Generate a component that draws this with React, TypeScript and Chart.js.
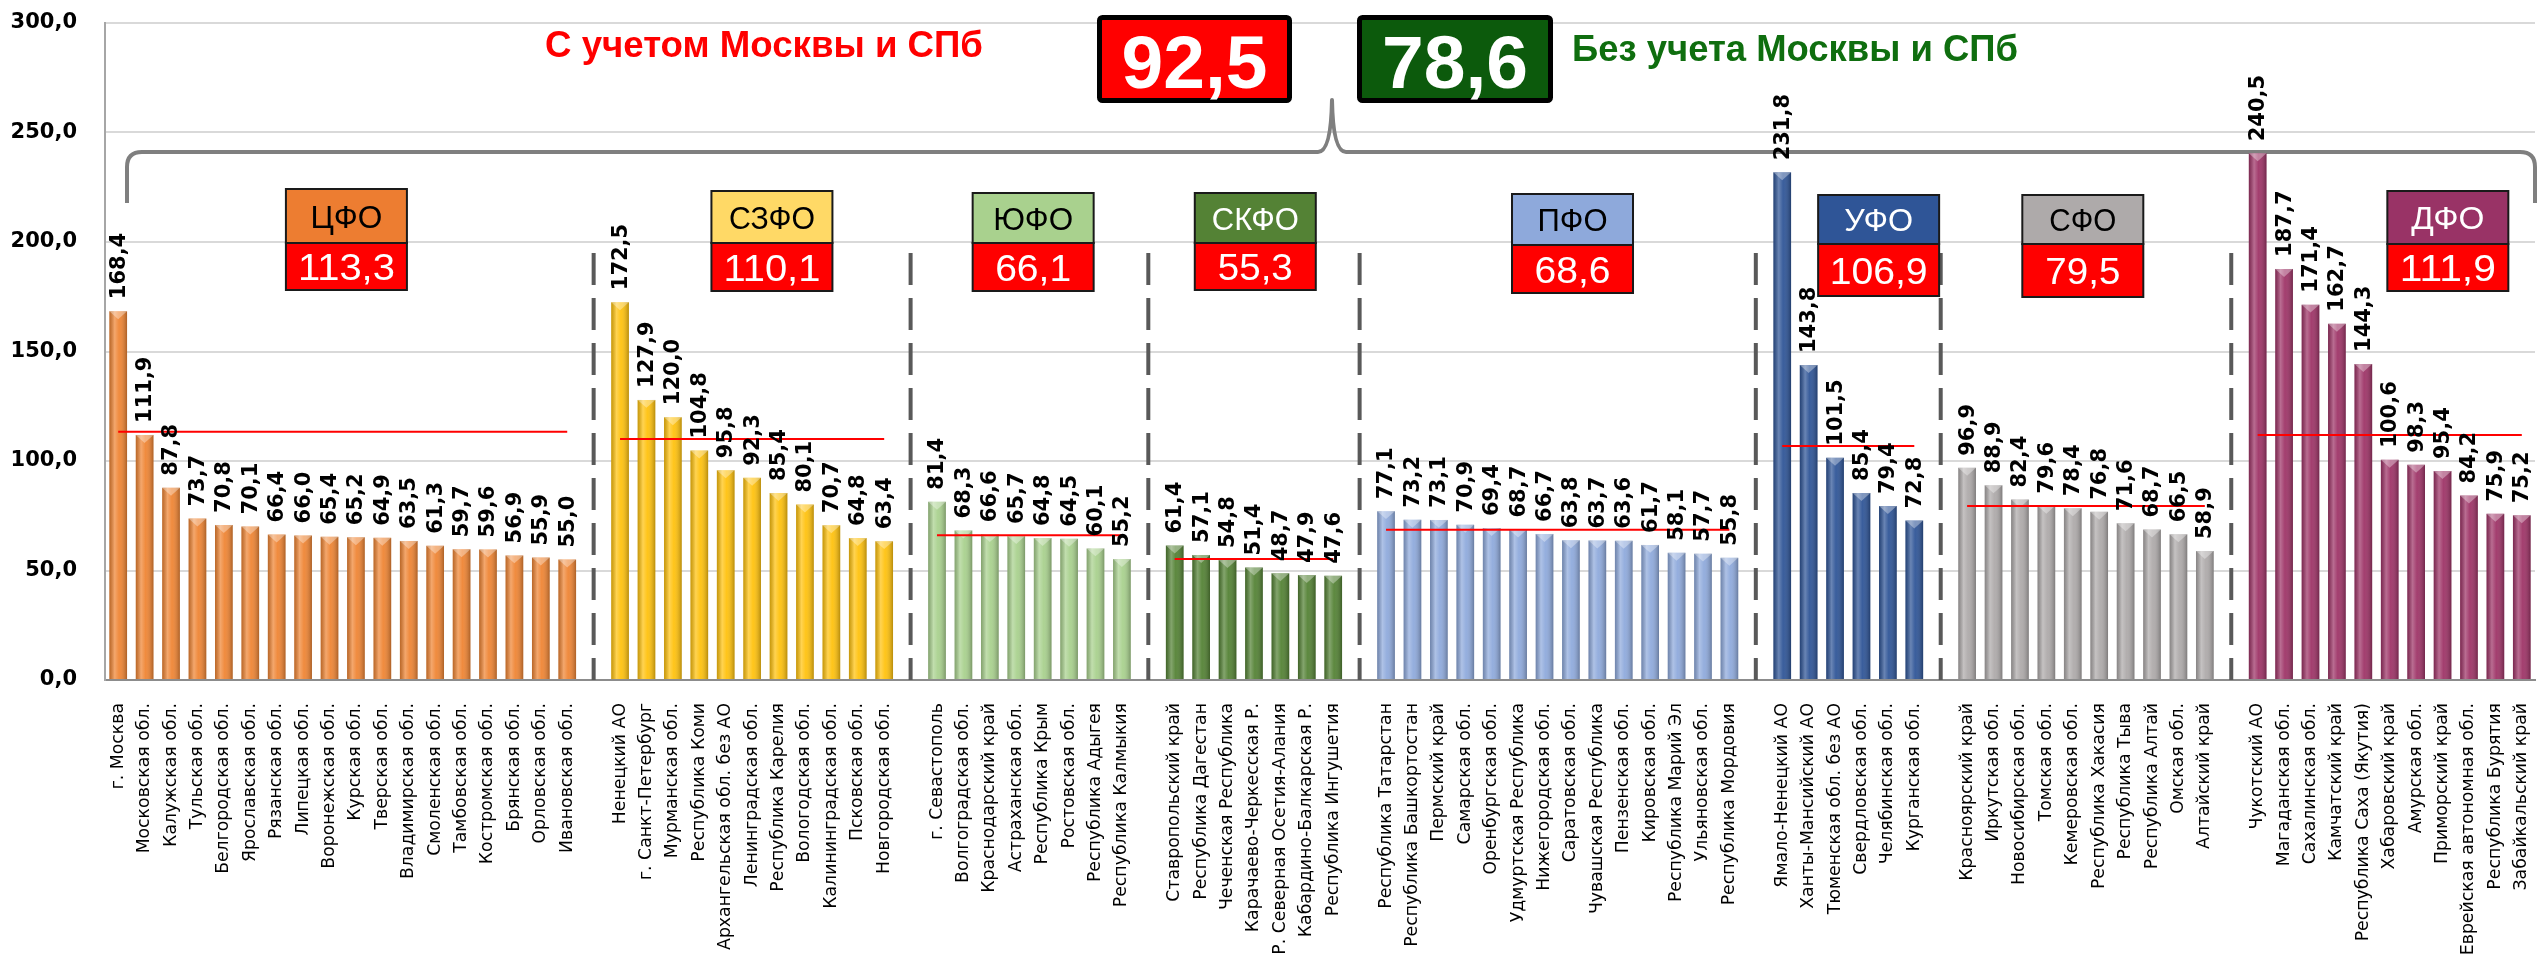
import React, { useEffect, useRef } from 'react';
import { Chart, registerables } from 'chart.js';

Chart.register(...registerables);

// ---------------- DATA ----------------
const groupNames = ['ЦФО', 'СЗФО', 'ЮФО', 'СКФО', 'ПФО', 'УФО', 'СФО', 'ДФО'];
const groupAverages = [113.3, 110.1, 66.1, 55.3, 68.6, 106.9, 79.5, 111.9];
const totalWithCapitals = 92.5;
const totalWithoutCapitals = 78.6;
const headerWith = 'С учетом Москвы и СПб';
const headerWithout = 'Без учета Москвы и СПб';

const cfoRegions = ['г. Москва', 'Московская обл.', 'Калужская обл.', 'Тульская обл.', 'Белгородская обл.', 'Ярославская обл.', 'Рязанская обл.', 'Липецкая обл.', 'Воронежская обл.', 'Курская обл.', 'Тверская обл.', 'Владимирская обл.', 'Смоленская обл.', 'Тамбовская обл.', 'Костромская обл.', 'Брянская обл.', 'Орловская обл.', 'Ивановская обл.'];
const cfoValues = [168.4, 111.9, 87.8, 73.7, 70.8, 70.1, 66.4, 66.0, 65.4, 65.2, 64.9, 63.5, 61.3, 59.7, 59.6, 56.9, 55.9, 55.0];

const szfoRegions = ['Ненецкий АО', 'г. Санкт-Петербург', 'Мурманская обл.', 'Республика Коми', 'Архангельская обл. без АО', 'Ленинградская обл.', 'Республика Карелия', 'Вологодская обл.', 'Калининградская обл.', 'Псковская обл.', 'Новгородская обл.'];
const szfoValues = [172.5, 127.9, 120.0, 104.8, 95.8, 92.3, 85.4, 80.1, 70.7, 64.8, 63.4];

const yufoRegions = ['г. Севастополь', 'Волгоградская обл.', 'Краснодарский край', 'Астраханская обл.', 'Республика Крым', 'Ростовская обл.', 'Республика Адыгея', 'Республика Калмыкия'];
const yufoValues = [81.4, 68.3, 66.6, 65.7, 64.8, 64.5, 60.1, 55.2];

const skfoRegions = ['Ставропольский край', 'Республика Дагестан', 'Чеченская Республика', 'Карачаево-Черкесская Р.', 'Р. Северная Осетия-Алания', 'Кабардино-Балкарская Р.', 'Республика Ингушетия'];
const skfoValues = [61.4, 57.1, 54.8, 51.4, 48.7, 47.9, 47.6];

const pfoRegions = ['Республика Татарстан', 'Республика Башкортостан', 'Пермский край', 'Самарская обл.', 'Оренбургская обл.', 'Удмуртская Республика', 'Нижегородская обл.', 'Саратовская обл.', 'Чувашская Республика', 'Пензенская обл.', 'Кировская обл.', 'Республика Марий Эл', 'Ульяновская обл.', 'Республика Мордовия'];
const pfoValues = [77.1, 73.2, 73.1, 70.9, 69.4, 68.7, 66.7, 63.8, 63.7, 63.6, 61.7, 58.1, 57.7, 55.8];

const ufoRegions = ['Ямало-Ненецкий АО', 'Ханты-Мансийский АО', 'Тюменская обл. без АО', 'Свердловская обл.', 'Челябинская обл.', 'Курганская обл.'];
const ufoValues = [231.8, 143.8, 101.5, 85.4, 79.4, 72.8];

const sfoRegions = ['Красноярский край', 'Иркутская обл.', 'Новосибирская обл.', 'Томская обл.', 'Кемеровская обл.', 'Республика Хакасия', 'Республика Тыва', 'Республика Алтай', 'Омская обл.', 'Алтайский край'];
const sfoValues = [96.9, 88.9, 82.4, 79.6, 78.4, 76.8, 71.6, 68.7, 66.5, 58.9];

const dfoRegions = ['Чукотский АО', 'Магаданская обл.', 'Сахалинская обл.', 'Камчатский край', 'Республика Саха (Якутия)', 'Хабаровский край', 'Амурская обл.', 'Приморский край', 'Еврейская автономная обл.', 'Республика Бурятия', 'Забайкальский край'];
const dfoValues = [240.5, 187.7, 171.4, 162.7, 144.3, 100.6, 98.3, 95.4, 84.2, 75.9, 75.2];

const yTickValues = [0, 50, 100, 150, 200, 250, 300];

const groupRegions = [cfoRegions, szfoRegions, yufoRegions, skfoRegions, pfoRegions, ufoRegions, sfoRegions, dfoRegions];
const groupValues = [cfoValues, szfoValues, yufoValues, skfoValues, pfoValues, ufoValues, sfoValues, dfoValues];

// ---------------- STYLE / LAYOUT ----------------
const barColors = ['#EF8534', '#FFC20E', '#A9D18E', '#548235', '#8FAADC', '#2F5597', '#AEAAAA', '#9E3467'];
const boxColors = ['#ED7D31', '#FFD966', '#A9D18E', '#548235', '#8EA9DB', '#2F5597', '#AEAAAA', '#993366'];
const boxTextColors = ['#000', '#000', '#000', '#fff', '#000', '#fff', '#000', '#fff'];
// x in category-slot units, y in pixels; widths of the texts in px
const boxLayout = [
  { slot: 8.64, top: 189, mid: 243, bottom: 290, nameW: 72, valW: 97 },
  { slot: 24.75, top: 191, mid: 243, bottom: 291, nameW: 86, valW: 97 },
  { slot: 34.64, top: 193, mid: 243, bottom: 291, nameW: 80, valW: 76 },
  { slot: 43.05, top: 193, mid: 243, bottom: 290, nameW: 87, valW: 75 },
  { slot: 55.06, top: 194, mid: 245, bottom: 293, nameW: 70, valW: 76 },
  { slot: 66.65, top: 195, mid: 244, bottom: 296, nameW: 69, valW: 98 },
  { slot: 74.38, top: 195, mid: 244, bottom: 297, nameW: 67, valW: 75 },
  { slot: 88.2, top: 191, mid: 244, bottom: 291, nameW: 73, valW: 96 },
];
const BOX_W = 121;
const CAL = '"Liberation Sans Narrow", "Liberation Sans", Arial, sans-serif';
const VERD = '"DejaVu Sans", Verdana, sans-serif';

// ---------------- BUILD TABLE ----------------
const labels: string[] = [];
const values: (number | null)[] = [];
const colors: string[] = [];
const avgLine: (number | null)[] = [];
const sepIdx: number[] = [];
groupValues.forEach((vals, g) => {
  if (g > 0) {
    labels.push('');
    values.push(null);
    colors.push('rgba(0,0,0,0)');
    avgLine.push(null);
    sepIdx.push(labels.length - 1);
  }
  vals.forEach((v, i) => {
    labels.push(groupRegions[g][i]);
    values.push(v);
    colors.push(barColors[g]);
    avgLine.push(groupAverages[g]);
  });
});

const fmt = (v: number) => v.toFixed(1).replace('.', ',');

function drawFit(ctx: CanvasRenderingContext2D, text: string, cx: number, baseline: number, size: number, weight: string, color: string, width?: number, family = CAL) {
  ctx.save();
  ctx.font = `${weight} ${size}px ${family}`;
  ctx.fillStyle = color;
  ctx.textAlign = 'center';
  ctx.textBaseline = 'alphabetic';
  const m = ctx.measureText(text).width;
  const sx = width ? width / m : 1;
  ctx.translate(cx, baseline);
  ctx.scale(sx, 1);
  ctx.fillText(text, 0, 0);
  ctx.restore();
}

const annotPlugin = {
  id: 'annot',
  beforeDatasetsDraw(chart: any) {
    const { ctx, scales } = chart;
    const x = scales.x, y = scales.y;
    // dashed separators
    ctx.save();
    ctx.strokeStyle = '#595959';
    ctx.lineWidth = 4;
    ctx.setLineDash([32, 13]);
    sepIdx.forEach((i) => {
      const px = x.getPixelForValue(i);
      ctx.beginPath();
      ctx.moveTo(px, y.getPixelForValue(195));
      ctx.lineTo(px, y.getPixelForValue(0));
      ctx.stroke();
    });
    ctx.restore();
    // brace
    ctx.save();
    ctx.strokeStyle = '#7F7F7F';
    ctx.lineWidth = 4;
    ctx.lineJoin = 'round';
    ctx.beginPath();
    ctx.moveTo(127, 203);
    ctx.lineTo(127, 167);
    ctx.quadraticCurveTo(127, 152, 142, 152);
    ctx.lineTo(1318, 152);
    ctx.quadraticCurveTo(1331, 152, 1332, 100);
    ctx.quadraticCurveTo(1333, 152, 1346, 152);
    ctx.lineTo(2520, 152);
    ctx.quadraticCurveTo(2535, 152, 2535, 167);
    ctx.lineTo(2535, 203);
    ctx.stroke();
    ctx.restore();
  },
  afterDatasetDraw(chart: any, args: any) {
    if (args.meta.type !== 'bar') return;
    const ctx: CanvasRenderingContext2D = chart.ctx;
    ctx.save();
    args.meta.data.forEach((el: any, i: number) => {
      if (values[i] == null) return;
      const bx = el.x, by = el.y, base = el.base, w = el.width;
      const g = ctx.createLinearGradient(bx - w / 2, 0, bx + w / 2, 0);
      g.addColorStop(0, 'rgba(0,0,0,0.22)');
      g.addColorStop(0.3, 'rgba(255,255,255,0.28)');
      g.addColorStop(0.55, 'rgba(255,255,255,0.05)');
      g.addColorStop(1, 'rgba(0,0,0,0.28)');
      ctx.fillStyle = g;
      ctx.fillRect(bx - w / 2, by, w, base - by);
      ctx.fillStyle = 'rgba(255,255,255,0.35)';
      ctx.beginPath();
      ctx.moveTo(bx - w / 2, by);
      ctx.lineTo(bx + w / 2, by);
      ctx.lineTo(bx, by + w * 0.45);
      ctx.closePath();
      ctx.fill();
    });
    ctx.restore();
  },
  afterDatasetsDraw(chart: any) {
    const ctx: CanvasRenderingContext2D = chart.ctx;
    const meta = chart.getDatasetMeta(1);
    ctx.save();
    ctx.font = `bold 21px ${VERD}`;
    ctx.fillStyle = '#000';
    ctx.textAlign = 'left';
    ctx.textBaseline = 'middle';
    meta.data.forEach((el: any, i: number) => {
      const v = values[i];
      if (v == null) return;
      ctx.save();
      ctx.translate(el.x + 1, el.y - 12);
      ctx.rotate(-Math.PI / 2);
      ctx.fillText(fmt(v), 0, 0);
      ctx.restore();
    });
    ctx.restore();
  },
  afterDraw(chart: any) {
    const ctx: CanvasRenderingContext2D = chart.ctx;
    const x = chart.scales.x;
    // group boxes
    boxLayout.forEach((b, g) => {
      const cx = x.getPixelForValue(b.slot);
      const l = cx - BOX_W / 2;
      ctx.save();
      ctx.fillStyle = boxColors[g];
      ctx.fillRect(l, b.top, BOX_W, b.mid - b.top);
      ctx.fillStyle = '#FF0000';
      ctx.fillRect(l, b.mid, BOX_W, b.bottom - b.mid);
      ctx.strokeStyle = '#1a1a1a';
      ctx.lineWidth = 2;
      ctx.strokeRect(l, b.top, BOX_W, b.mid - b.top);
      ctx.strokeRect(l, b.mid, BOX_W, b.bottom - b.mid);
      ctx.restore();
      drawFit(ctx, groupNames[g], cx, (b.top + b.mid) / 2 + 11.5, 32, 'normal', boxTextColors[g], b.nameW);
      drawFit(ctx, fmt(groupAverages[g]), cx, (b.mid + b.bottom) / 2 + 13.5, 37, 'normal', '#fff', b.valW);
    });
    // header
    drawFit(ctx, headerWith, 764, 57, 37, 'bold', '#FF0000', 438);
    drawFit(ctx, headerWithout, 1795, 61, 36, 'bold', '#0F6E0F', 446);
    const bigBox = (l: number, r: number, fill: string, val: number) => {
      ctx.save();
      ctx.fillStyle = fill;
      ctx.strokeStyle = '#000';
      ctx.lineWidth = 5;
      ctx.beginPath();
      (ctx as any).roundRect ? (ctx as any).roundRect(l + 2.5, 17.5, r - l - 5, 83, 3) : ctx.rect(l + 2.5, 17.5, r - l - 5, 83);
      ctx.fill();
      ctx.stroke();
      ctx.restore();
      drawFit(ctx, fmt(val), (l + r) / 2, 88, 75, 'bold', '#fff', 146);
    };
    bigBox(1097, 1292, '#FF0000', totalWithCapitals);
    bigBox(1357, 1553, '#0C5A0C', totalWithoutCapitals);
  },
};

export default function App() {
  const ref = useRef<HTMLCanvasElement>(null);
  useEffect(() => {
    document.body.style.margin = '0';
    if (!ref.current) return;
    const chart = new Chart(ref.current, {
      type: 'bar',
      data: {
        labels,
        datasets: [
          {
            type: 'line',
            data: avgLine,
            borderColor: '#FF0000',
            borderWidth: 2,
            pointRadius: 0,
            spanGaps: false,
            order: 0,
          } as any,
          {
            type: 'bar',
            data: values,
            backgroundColor: colors,
            barPercentage: 0.67,
            categoryPercentage: 1.0,
            order: 1,
          } as any,
        ],
      },
      options: {
        animation: false,
        responsive: false,
        devicePixelRatio: 1,
        layout: { padding: { top: 23, right: 4, left: 0, bottom: 0 } },
        plugins: { legend: { display: false }, tooltip: { enabled: false } },
        scales: {
          x: {
            grid: { display: false },
            border: { display: true, color: '#8C8C8C', width: 2 },
            ticks: {
              autoSkip: false,
              maxRotation: 90,
              minRotation: 90,
              padding: 15,
              color: '#000',
              font: { family: VERD, size: 17.3 },
            },
            afterFit: (s: any) => {
              s.height = 280;
              s.paddingLeft = 0;
              s.paddingRight = 0;
            },
          },
          y: {
            min: 0,
            max: 300,
            afterBuildTicks: (s: any) => {
              s.ticks = yTickValues.map((v) => ({ value: v }));
            },
            grid: { color: '#D9D9D9', lineWidth: 2, drawTicks: false },
            border: { display: true, color: '#A6A6A6', width: 2 },
            ticks: {
              padding: 28,
              color: '#000',
              font: { family: VERD, size: 21, weight: 'bold' },
              callback: (v: any) => fmt(Number(v)),
            },
            afterFit: (s: any) => {
              s.width = 105;
              s.paddingTop = 0;
              s.paddingBottom = 0;
            },
          },
        },
      },
      plugins: [annotPlugin],
    });
    return () => chart.destroy();
  }, []);
  return <canvas ref={ref} width={2539} height={960} style={{ display: 'block' }} />;
}
